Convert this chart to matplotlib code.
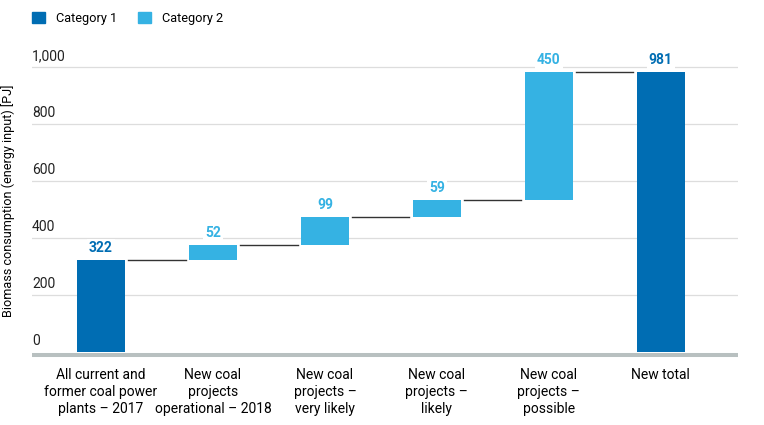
import matplotlib.pyplot as plt
import matplotlib.transforms as mtransforms
import matplotlib.patches as mpatches

plt.rcParams['font.family'] = ['Roboto', 'DejaVu Sans']

categories = ['All current and\nformer coal power\nplants \u2013 2017',
              'New coal\nprojects\noperational \u2013 2018',
              'New coal\nprojects \u2013\nvery likely',
              'New coal\nprojects \u2013\nlikely',
              'New coal\nprojects \u2013\npossible',
              'New total']
values = [322, 52, 99, 59, 450, 981]
kinds = ['total', 'step', 'step', 'step', 'step', 'total']
yticks = [0, 200, 400, 600, 800, 1000]
ytick_labels = ['0', '200', '400', '600', '800', '1,000']

dark = '#006DB3'
light = '#35B2E3'
w = 0.43

fig = plt.figure(figsize=(7.64, 4.25), dpi=100)
ax = fig.add_axes([0.042, 0.1576, 0.924, 0.7106])

bottoms = []
tops = []
run = 0
for v, k in zip(values, kinds):
    if k == 'total':
        bottoms.append(0)
        tops.append(v)
        run = v
    else:
        bottoms.append(run)
        run += v
        tops.append(run)

x = list(range(len(values)))
for i in x:
    col = dark if kinds[i] == 'total' else light
    ax.bar(i, tops[i] - bottoms[i], bottom=bottoms[i], width=w, color=col, zorder=3)
    ax.annotate(str(values[i]), (i, tops[i]), xytext=(0, 4), textcoords='offset points',
                ha='center', va='bottom', fontsize=10, fontweight='bold', color=col,
                bbox=dict(facecolor='white', edgecolor='none', pad=1.5), zorder=4)
    if i < len(values) - 1:
        ax.plot([i + w / 2 + 0.03, i + 1 - w / 2 - 0.03], [tops[i], tops[i]],
                color='#333333', lw=1.0, zorder=3)

ax.set_xlim(-0.616, 5.69)
ax.set_ylim(-21, 1038.6)
for t in yticks[1:]:
    ax.axhline(t, color='#DDDDDD', lw=0.9, zorder=1)
ax.axhline(-9, color='#B8C0C0', lw=2.9, zorder=5)

for s in ax.spines.values():
    s.set_visible(False)
ax.set_yticks([])
ax.set_xticks(x)
ax.set_xticklabels(categories, fontsize=10, linespacing=1.3)
ax.tick_params(axis='x', length=0, pad=7)

trans = mtransforms.blended_transform_factory(ax.transAxes, ax.transData)
for t, lab in zip(yticks, ytick_labels):
    ax.text(0.0, t + 14, lab, transform=trans, ha='left', va='bottom', fontsize=10, color='#222222')

fig.text(0.011, 0.527, 'Biomass consumption (energy input) [PJ]', rotation=90,
         ha='center', va='center', fontsize=9.1)

handles = [mpatches.Patch(color=dark, label='Category 1'),
           mpatches.Patch(color=light, label='Category 2')]
fig.legend(handles=handles, loc='upper left', bbox_to_anchor=(0.027, 1.0), ncol=2,
           frameon=False, fontsize=9.2, handlelength=1.0, handleheight=1.0,
           columnspacing=1.6, handletextpad=0.9)

fig.savefig('out.png', dpi=100)
